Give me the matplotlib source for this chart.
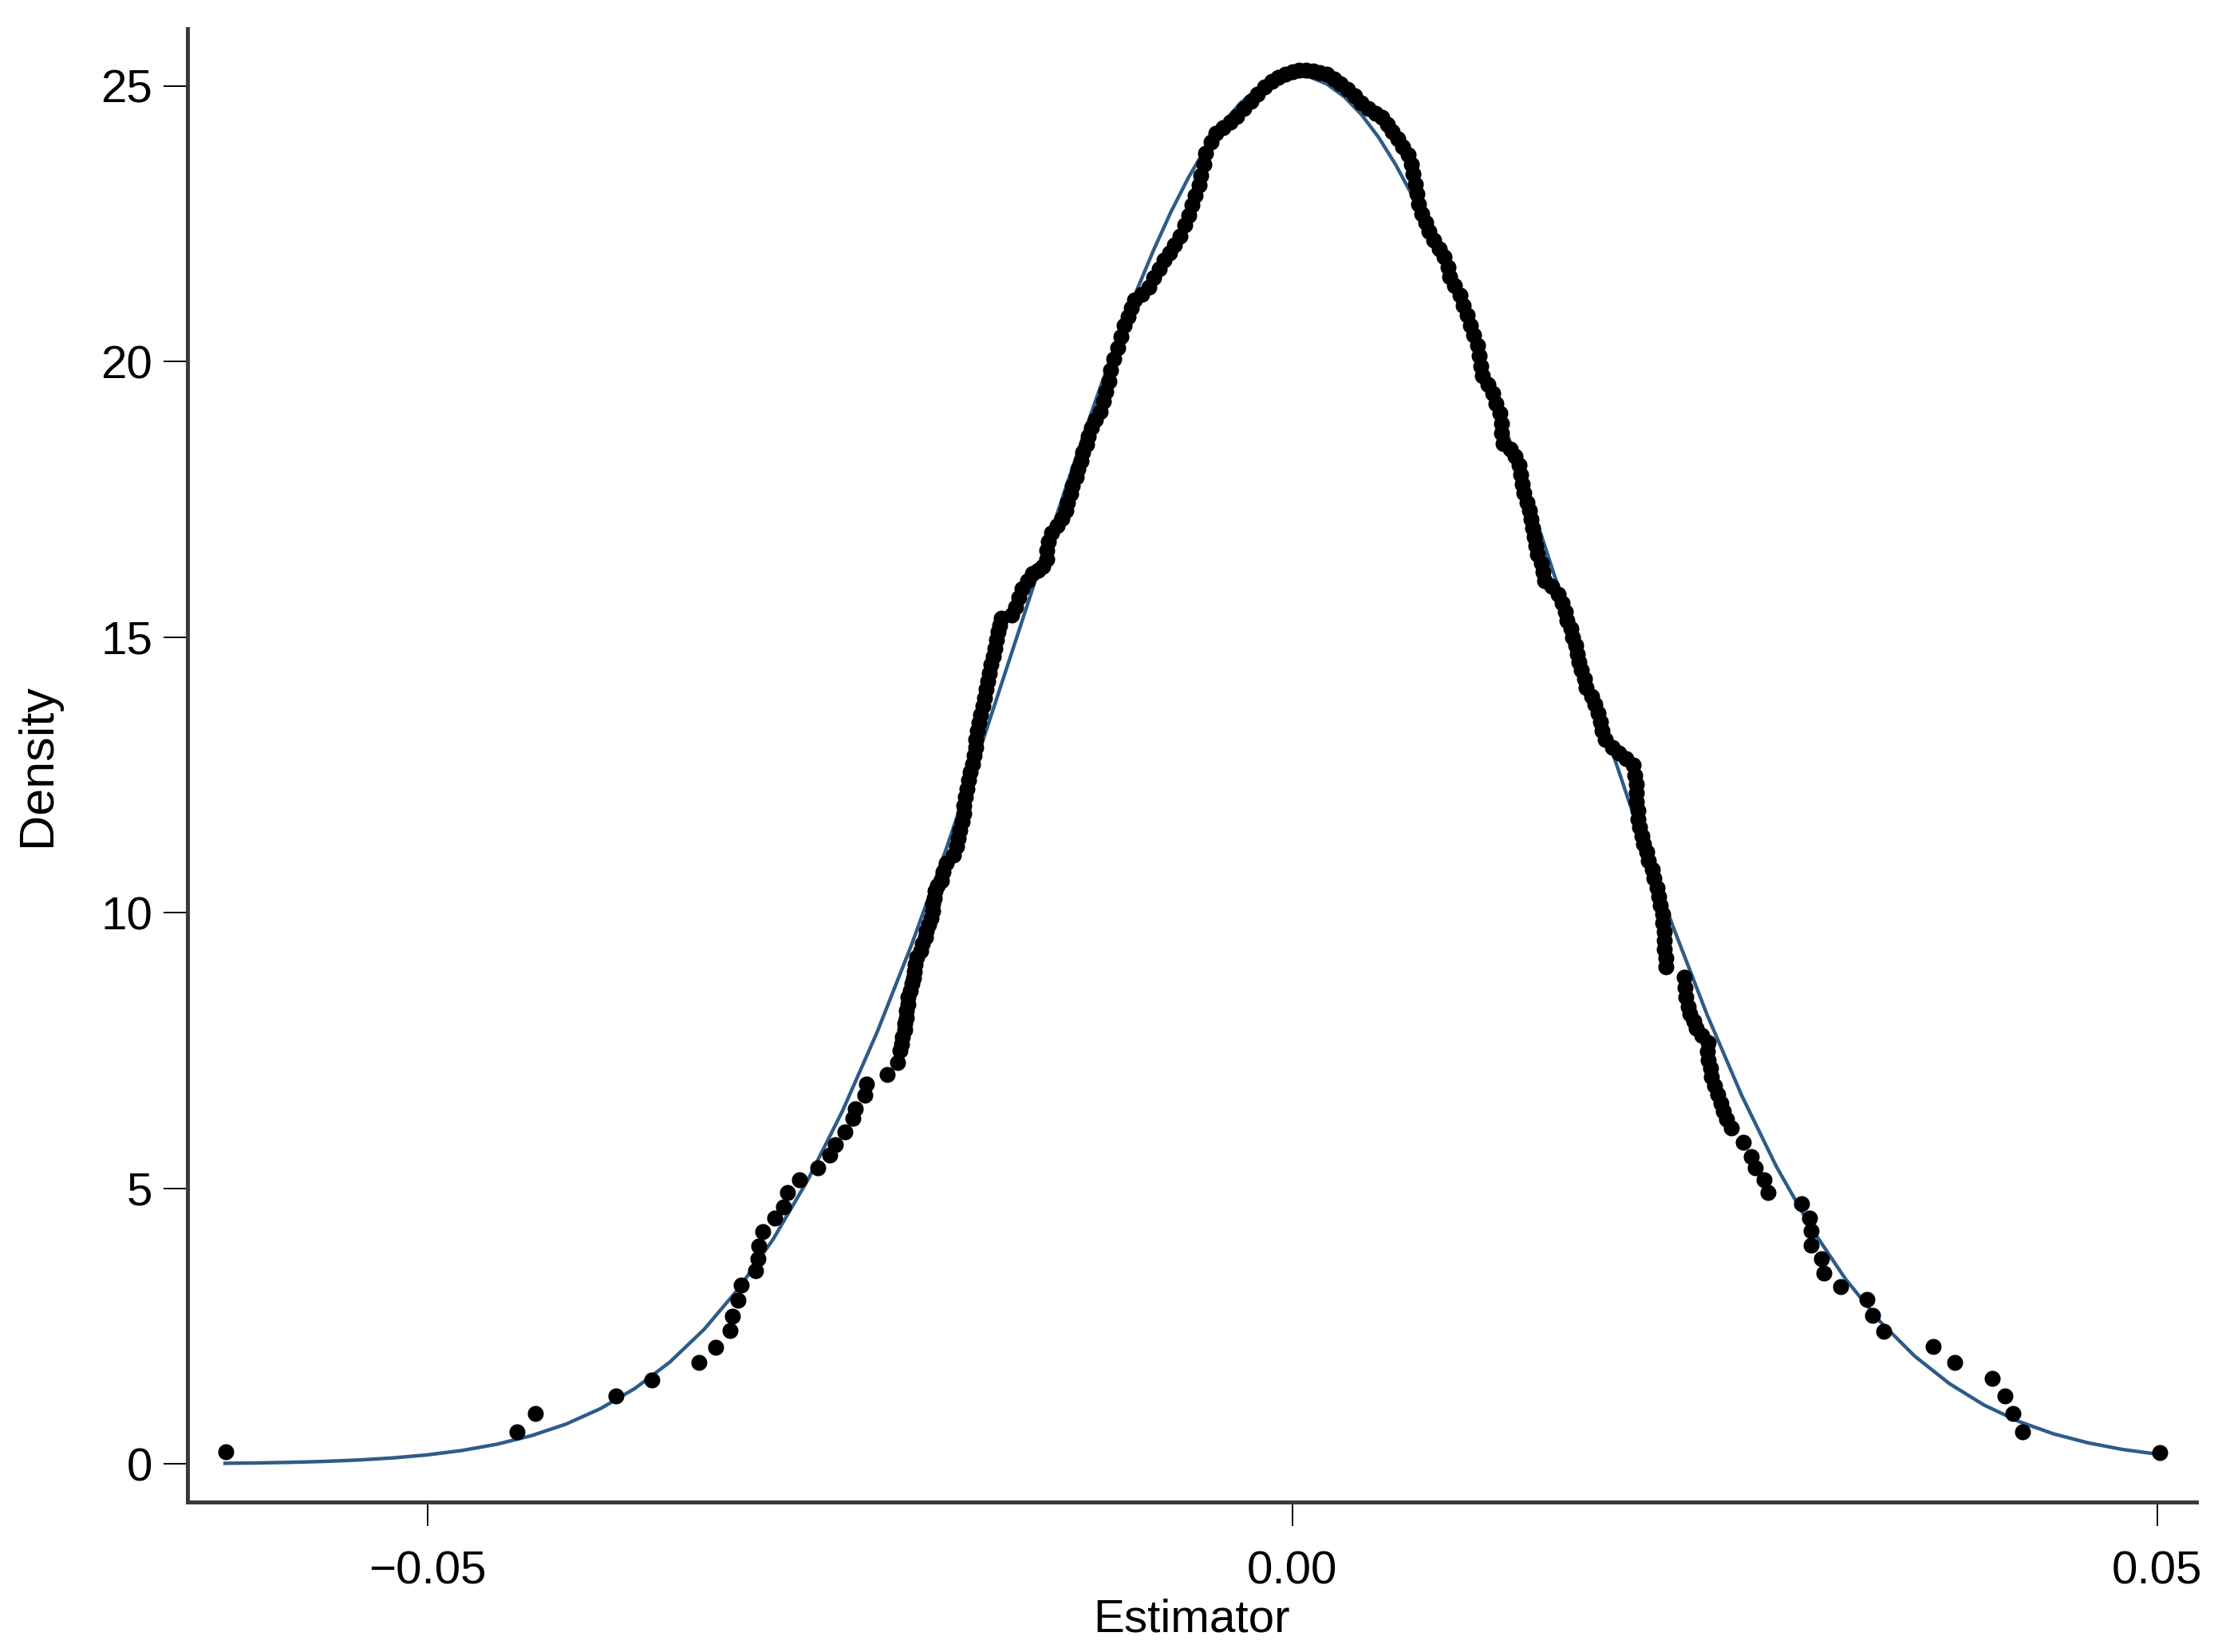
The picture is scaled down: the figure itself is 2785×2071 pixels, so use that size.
import matplotlib
matplotlib.use("Agg")
import matplotlib.pyplot as plt

plt.rcParams['font.family'] = ['Liberation Sans', 'DejaVu Sans']

# fitted normal density (blue line)
curve_x = [-0.0617, -0.060, -0.058, -0.056, -0.054, -0.052, -0.050, -0.048, -0.046,
           -0.044, -0.042, -0.040, -0.038, -0.036, -0.034, -0.032, -0.030, -0.028,
           -0.026, -0.024, -0.022, -0.020, -0.018, -0.016, -0.014, -0.013, -0.012,
           -0.011, -0.010, -0.009, -0.008, -0.007, -0.006, -0.005, -0.004, -0.003,
           -0.002, -0.001, 0.000, 0.001, 0.002, 0.003, 0.004, 0.005, 0.006,
           0.007, 0.008, 0.009, 0.010, 0.011, 0.012, 0.013, 0.014, 0.016,
           0.018, 0.020, 0.022, 0.024, 0.026, 0.028, 0.030, 0.032, 0.034,
           0.036, 0.038, 0.040, 0.042, 0.044, 0.046, 0.048, 0.050, 0.0502]
curve_y = [0.012, 0.018, 0.029, 0.046, 0.072, 0.110, 0.165, 0.245, 0.357,
           0.512, 0.722, 1.003, 1.371, 1.844, 2.443, 3.185, 4.084, 5.157,
           6.407, 7.834, 9.427, 11.165, 13.014, 14.928, 16.853, 17.800, 18.726,
           19.620, 20.476, 21.285, 22.036, 22.724, 23.340, 23.877, 24.329, 24.690,
           24.958, 25.128, 25.198, 25.168, 25.038, 24.809, 24.484, 24.068, 23.564,
           22.979, 22.320, 21.592, 20.806, 19.968, 19.088, 18.173, 17.234, 15.314,
           13.393, 11.526, 9.764, 8.140, 6.678, 5.392, 4.285, 3.351, 2.580,
           1.954, 1.457, 1.069, 0.772, 0.548, 0.384, 0.264, 0.179, 0.172]

# density estimate at each observation (black dots), (estimator, density)
left_tail = [(-0.06165, 0.22), (-0.04481, 0.58), (-0.04375, 0.92), (-0.03911, 1.24),
             (-0.03701, 1.53), (-0.03429, 1.84), (-0.03332, 2.11), (-0.03249, 2.42),
             (-0.03235, 2.68), (-0.03203, 2.97), (-0.03184, 3.24), (-0.03101, 3.50),
             (-0.03090, 3.72), (-0.03083, 3.95), (-0.03060, 4.22), (-0.02990, 4.46),
             (-0.02940, 4.67), (-0.02920, 4.92), (-0.02847, 5.16), (-0.02741, 5.38),
             (-0.02676, 5.60), (-0.02640, 5.79), (-0.02584, 6.03), (-0.02538, 6.27),
             (-0.02524, 6.44), (-0.02469, 6.69), (-0.02460, 6.90), (-0.02340, 7.06),
             (-0.02284, 7.28), (-0.02270, 7.50), (-0.0226, 7.62), (-0.02252, 7.74),
             (-0.0224, 7.87), (-0.02238, 7.99), (-0.0223, 8.10), (-0.02229, 8.22),
             (-0.0222, 8.34), (-0.02224, 8.47), (-0.0221, 8.59), (-0.02201, 8.71),
             (-0.0219, 8.82), (-0.02183, 8.94), (-0.0218, 9.06), (-0.02169, 9.19),
             (-0.0215, 9.31), (-0.02137, 9.44), (-0.0212, 9.55), (-0.02114, 9.67),
             (-0.0210, 9.79), (-0.02090, 9.91), (-0.0208, 10.03), (-0.02077, 10.16),
             (-0.0207, 10.27), (-0.02067, 10.39), (-0.0205, 10.49), (-0.02030, 10.59)]

left_rise = [(-0.0202, 10.75), (-0.0200, 10.90), (-0.0196, 11.05), (-0.0194, 11.20),
             (-0.0193, 11.35), (-0.0192, 11.50), (-0.0191, 11.65), (-0.0190, 11.80),
             (-0.0190, 11.95), (-0.0189, 12.10), (-0.0188, 12.25), (-0.0187, 12.40),
             (-0.0186, 12.55), (-0.0185, 12.70), (-0.0184, 12.85), (-0.0183, 13.00),
             (-0.0183, 13.15), (-0.0182, 13.30), (-0.0181, 13.45), (-0.0180, 13.60),
             (-0.0179, 13.75), (-0.0178, 13.90), (-0.0177, 14.05), (-0.0176, 14.20),
             (-0.0175, 14.35), (-0.0174, 14.50), (-0.0173, 14.65), (-0.0172, 14.80),
             (-0.0171, 14.95), (-0.0170, 15.10), (-0.0169, 15.22), (-0.0168, 15.34),
             (-0.0162, 15.40), (-0.0160, 15.55), (-0.0158, 15.72), (-0.0156, 15.88),
             (-0.0153, 16.02), (-0.0150, 16.15), (-0.0147, 16.22), (-0.0144, 16.28),
             (-0.0142, 16.42), (-0.0142, 16.58), (-0.0141, 16.74), (-0.0139, 16.90),
             (-0.0136, 17.02), (-0.0133, 17.15), (-0.0131, 17.30), (-0.0130, 17.45),
             (-0.0128, 17.60), (-0.0127, 17.75), (-0.0125, 17.90), (-0.0124, 18.05),
             (-0.0122, 18.20), (-0.0121, 18.35), (-0.0119, 18.50), (-0.0118, 18.65),
             (-0.0116, 18.80), (-0.0114, 18.95)]

peak = [(-0.0111, 19.10), (-0.0109, 19.28), (-0.0108, 19.45), (-0.0106, 19.65),
        (-0.0105, 19.85), (-0.0103, 20.05), (-0.0101, 20.25), (-0.0099, 20.45),
        (-0.0097, 20.65), (-0.0095, 20.82), (-0.0093, 20.98), (-0.0091, 21.12),
        (-0.0087, 21.22), (-0.0083, 21.35), (-0.0080, 21.52), (-0.0077, 21.68),
        (-0.0074, 21.84), (-0.0071, 21.98), (-0.0068, 22.12), (-0.0065, 22.28),
        (-0.0062, 22.48), (-0.0060, 22.66), (-0.0058, 22.84), (-0.0056, 23.02),
        (-0.0054, 23.20), (-0.0053, 23.38), (-0.0051, 23.58), (-0.0050, 23.78),
        (-0.0047, 23.98), (-0.0044, 24.15), (-0.0040, 24.25), (-0.0036, 24.35),
        (-0.0032, 24.45), (-0.0028, 24.60), (-0.0024, 24.72), (-0.0020, 24.86),
        (-0.0016, 24.98), (-0.0012, 25.08), (-0.0008, 25.16), (-0.0004, 25.22),
        (0.0000, 25.26), (0.0004, 25.29), (0.0008, 25.29), (0.0012, 25.27),
        (0.0016, 25.25), (0.0020, 25.21), (0.0024, 25.13), (0.0028, 25.04),
        (0.0032, 24.94), (0.0036, 24.82), (0.0040, 24.70), (0.0044, 24.60),
        (0.0048, 24.51), (0.0052, 24.43)]

right_fall = [(0.0055, 24.30), (0.0058, 24.18), (0.0061, 24.05), (0.0064, 23.90),
              (0.0067, 23.76), (0.0069, 23.58), (0.0070, 23.40), (0.0071, 23.22),
              (0.0072, 23.04), (0.0073, 22.86), (0.0075, 22.68), (0.0077, 22.52),
              (0.0079, 22.36), (0.0082, 22.20), (0.0085, 22.05), (0.0088, 21.90),
              (0.0090, 21.72), (0.0091, 21.54), (0.0094, 21.38), (0.0097, 21.20),
              (0.0099, 21.02), (0.0101, 20.84), (0.0103, 20.66), (0.0105, 20.48),
              (0.0107, 20.30), (0.0108, 20.10), (0.0109, 19.92), (0.0110, 19.75),
              (0.0113, 19.58), (0.0116, 19.42), (0.0118, 19.24), (0.0120, 19.06),
              (0.0121, 18.88), (0.0121, 18.70), (0.0122, 18.52), (0.0126, 18.42),
              (0.0129, 18.28), (0.0131, 18.12), (0.0132, 17.95), (0.0133, 17.78),
              (0.0134, 17.62), (0.0136, 17.45), (0.0137, 17.30), (0.0138, 17.14),
              (0.0139, 16.98), (0.0140, 16.82), (0.0141, 16.66), (0.0142, 16.50),
              (0.0144, 16.34), (0.0145, 16.18), (0.0146, 16.03), (0.0150, 15.92),
              (0.0154, 15.78), (0.0156, 15.62), (0.0158, 15.46), (0.0159, 15.30),
              (0.0161, 15.15), (0.0162, 15.00), (0.0164, 14.85), (0.0165, 14.70),
              (0.0166, 14.55), (0.0167, 14.40), (0.0169, 14.24), (0.0170, 14.08),
              (0.0173, 13.92), (0.0175, 13.78), (0.0177, 13.62), (0.0178, 13.46),
              (0.0179, 13.30), (0.0181, 13.14), (0.0185, 13.00), (0.0189, 12.90),
              (0.0193, 12.80), (0.0197, 12.68), (0.0198, 12.50), (0.0199, 12.34),
              (0.0199, 12.18), (0.0199, 12.02), (0.0200, 11.86), (0.0200, 11.70),
              (0.0201, 11.55), (0.0202, 11.40), (0.0203, 11.25), (0.0205, 11.10),
              (0.0206, 10.95), (0.0208, 10.78), (0.0209, 10.62), (0.0211, 10.46),
              (0.0212, 10.30), (0.0213, 10.14), (0.0214, 9.98), (0.0214, 9.82),
              (0.0215, 9.66), (0.0215, 9.50), (0.0215, 9.34), (0.0216, 9.18),
              (0.0216, 9.02)]

right_tail = [(0.02268, 8.83), (0.0227, 8.65), (0.02276, 8.47), (0.0229, 8.30),
              (0.0230, 8.16), (0.0232, 8.03), (0.02338, 7.90), (0.0237, 7.78),
              (0.02407, 7.64), (0.0240, 7.48), (0.02407, 7.33), (0.0242, 7.18),
              (0.02423, 7.02), (0.0244, 6.86), (0.02461, 6.71), (0.0248, 6.55),
              (0.02492, 6.40), (0.0251, 6.25), (0.02538, 6.09), (0.02607, 5.83),
              (0.02653, 5.57), (0.02676, 5.37), (0.02730, 5.16), (0.02753, 4.93),
              (0.02946, 4.72), (0.02992, 4.46), (0.03000, 4.23), (0.03000, 3.97),
              (0.03061, 3.73), (0.03076, 3.47), (0.03169, 3.22), (0.03322, 2.98),
              (0.03353, 2.70), (0.03422, 2.41), (0.03707, 2.13), (0.03830, 1.84),
              (0.04045, 1.55), (0.04122, 1.24), (0.04168, 0.92), (0.04222, 0.58),
              (0.05015, 0.21)]

dots = left_tail + left_rise + peak + right_fall + right_tail
dot_x = [p[0] for p in dots]
dot_y = [p[1] for p in dots]

fig = plt.figure(figsize=(13.925, 10.355), dpi=200)
ax = fig.add_axes([0.0844, 0.0908, 0.9041, 0.8918])

ax.plot(curve_x, curve_y, color='#2e5c88', lw=1.6, zorder=2)
ax.scatter(dot_x, dot_y, s=52, color='black', linewidths=0, zorder=3)

ax.set_xlim(-0.06387, 0.05228)
ax.set_ylim(-0.69, 26.04)
ax.set_xticks([-0.05, 0.0, 0.05])
ax.set_xticklabels(['\u22120.05', '0.00', '0.05'])
ax.set_yticks([0, 5, 10, 15, 20, 25])

for side in ['top', 'right']:
    ax.spines[side].set_visible(False)
for side in ['left', 'bottom']:
    ax.spines[side].set_linewidth(1.8)
    ax.spines[side].set_color('#3a3a3a')

ax.tick_params(direction='out', length=10.8, width=0.7, labelsize=21, color='black')
ax.tick_params(axis='x', pad=11)
ax.tick_params(axis='y', pad=5)

ax.set_xlabel('Estimator', fontsize=21, labelpad=2)
ax.set_ylabel('Density', fontsize=22, labelpad=18)

fig.savefig('out.png', dpi=200)
